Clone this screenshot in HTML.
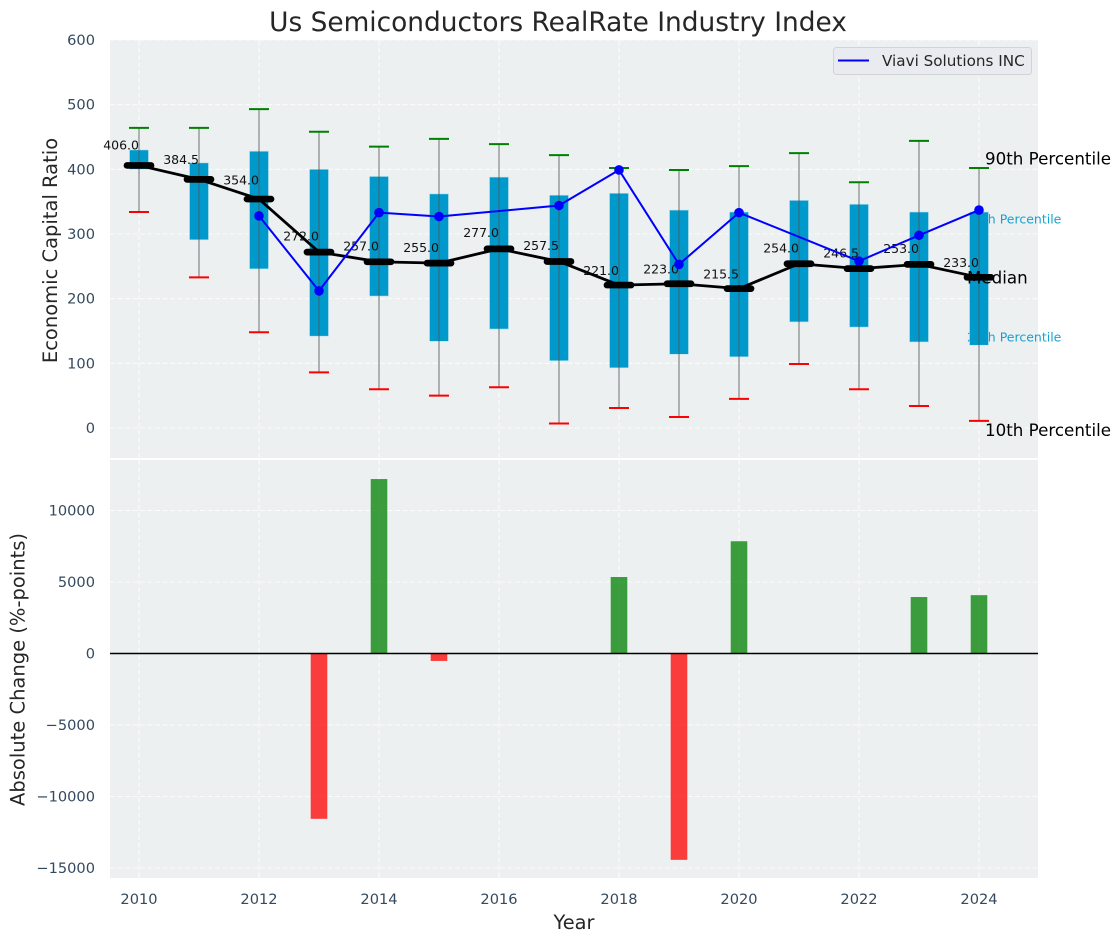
<!DOCTYPE html>
<html>
<head>
<meta charset="utf-8">
<title>Us Semiconductors RealRate Industry Index</title>
<style>
html,body{margin:0;padding:0;background:#fff;}
svg{display:block;font-family:"DejaVu Sans","Liberation Sans",sans-serif;}
</style>
</head>
<body>
<svg id="chart" xmlns="http://www.w3.org/2000/svg" width="1120" height="942" viewBox="0 0 1120 942">
  <rect x="0" y="0" width="1120" height="942" fill="#ffffff"/>
  <rect x="110" y="40" width="928" height="418" fill="#ecf0f1"/>
  <rect x="110" y="460" width="928" height="418" fill="#ecf0f1"/>
  <g id="grid"></g>
  <g id="ticks"></g>
  <g id="under"></g>
  <g id="boxes"></g>
  <g id="mid"></g>
  <g id="lines"></g>
  <g id="bars"></g>
  <text x="558" y="31" font-size="26.4" fill="#262626" text-anchor="middle">Us Semiconductors RealRate Industry Index</text>
  <text transform="translate(57,250.5) rotate(-90)" font-size="19.5" fill="#262626" text-anchor="middle">Economic Capital Ratio</text>
  <text transform="translate(24.5,669.5) rotate(-90)" font-size="19.5" fill="#262626" text-anchor="middle">Absolute Change (%-points)</text>
  <text x="574" y="929" font-size="19.4" fill="#262626" text-anchor="middle">Year</text>
  <g>
    <rect x="833.5" y="47.5" width="198" height="27" rx="3" fill="#e9ebf0" stroke="#d2d3d6" stroke-width="1"/>
    <line x1="838" y1="60.5" x2="869" y2="60.5" stroke="#0000ff" stroke-width="2"/>
    <text x="882" y="66" font-size="15.2" fill="#262626">Viavi Solutions INC</text>
  </g>
</svg>
<script>
var years = [2010,2011,2012,2013,2014,2015,2016,2017,2018,2019,2020,2021,2022,2023,2024];
var p90 = [464,464,493,458,435,447,439,422,402,399,405,425,380,444,402];
var p75 = [430,410,428,400,389,362,388,360,363,337,334,352,346,334,334];
var medians = [406,384.5,354,272,257,255,277,257.5,221,223,215.5,254,246.5,253,233];
var p25 = [400,291,246,142,204,134,153,104,93,114,110,164,156,133,128];
var p10 = [334,233,148,86,60,50,63,7,31,17,45,99,60,34,11];
var viavi = [null,null,328,212,333,327,null,344,399,253,333,null,258,298,337];
var changes = [null,null,null,-11560,12200,-520,null,null,5350,-14430,7850,null,null,3950,4080];
var xTicks = [2010,2012,2014,2016,2018,2020,2022,2024];
var topTicks = [0,100,200,300,400,500,600];
var bottomTicks = [-15000,-10000,-5000,0,5000,10000];

var NS = 'http://www.w3.org/2000/svg';
function X(v){ return 139 + (v - 2010) * 60; }
function YT(v){ return 428 - v * 0.6467; }
function YB(v){ return 653.5 - v * 0.0143; }
function mk(parent, tag, attrs, txt){
  var e = document.createElementNS(NS, tag);
  for (var k in attrs) e.setAttribute(k, attrs[k]);
  if (txt !== undefined) e.textContent = txt;
  document.getElementById(parent).appendChild(e);
  return e;
}
var el, i, gridStyle = {stroke:'#ffffff','stroke-width':1.1,'stroke-dasharray':'5 2.5',opacity:0.85};
function gridAttrs(a){ for (var k in gridStyle) a[k] = gridStyle[k]; return a; }

xTicks.forEach(function(t){
  el = mk('grid','line',gridAttrs({x1:X(t),x2:X(t),y1:40,y2:458}));
  
  
  el = mk('grid','line',gridAttrs({x1:X(t),x2:X(t),y1:460,y2:878}));
  
  
  el = mk('ticks','text',{x:X(t),y:904,'font-size':14.6,fill:'#34495e','text-anchor':'middle'},String(t));
  
  
});
topTicks.forEach(function(t){
  el = mk('grid','line',gridAttrs({x1:110,x2:1038,y1:YT(t),y2:YT(t)}));
  
  
  el = mk('ticks','text',{x:95,y:YT(t)+5,'font-size':14.6,fill:'#34495e','text-anchor':'end'},String(t));
  
  
});
bottomTicks.forEach(function(t){
  el = mk('grid','line',gridAttrs({x1:110,x2:1038,y1:YB(t),y2:YB(t)}));
  
  
  el = mk('ticks','text',{x:95,y:YB(t)+5,'font-size':14.6,fill:'#34495e','text-anchor':'end'},String(t).replace('-','\u2212'));
  
  
});

var last = years.length - 1;
var lx = X(years[last]);
el = mk('under','text',{x:lx-12,y:YT(p75[last])+11.5,'font-size':12.5,fill:'#0099cc',opacity:0.9},'75th Percentile');


el = mk('under','text',{x:lx-12,y:YT(p25[last])-3.5,'font-size':12.5,fill:'#0099cc',opacity:0.9},'25th Percentile');



years.forEach(function(yr,i){
  var cx = X(yr);
  el = mk('boxes','rect',{x:cx-9.5,y:YT(p75[i]),width:19,height:YT(p25[i])-YT(p75[i]),fill:'#0099cc',stroke:'#bfe3ef','stroke-width':0.6});
  
  
  el = mk('boxes','line',{x1:cx,x2:cx,y1:YT(p90[i]),y2:YT(p10[i]),stroke:'#555555','stroke-width':1.1,opacity:0.75});
  
  
  el = mk('boxes','line',{x1:cx-10,x2:cx+10,y1:YT(p90[i]),y2:YT(p90[i]),stroke:'#008000','stroke-width':2});
  
  
  el = mk('boxes','line',{x1:cx-10,x2:cx+10,y1:YT(p10[i]),y2:YT(p10[i]),stroke:'#ff0000','stroke-width':2});
  
  
  el = mk('mid','text',{x:cx,y:YT(medians[i]*1.05)-3,'font-size':12.5,fill:'#111111','text-anchor':'end'},medians[i].toFixed(1));
  
  
});

el = mk('mid','text',{x:lx+6,y:YT(p90[last])-3.5,'font-size':16.7,fill:'#000000'},'90th Percentile');


el = mk('mid','text',{x:lx-12,y:YT(medians[last])+6,'font-size':16.7,fill:'#000000'},'Median');


el = mk('mid','text',{x:lx+6,y:YT(p10[last])+15,'font-size':16.7,fill:'#000000'},'10th Percentile');



var medPts = years.map(function(yr,i){ return X(yr)+','+YT(medians[i]); }).join(' ');
el = mk('lines','polyline',{points:medPts,fill:'none',stroke:'#000000','stroke-width':2.8});


years.forEach(function(yr,i){
  el = mk('lines','line',{x1:X(yr)-12,x2:X(yr)+12,y1:YT(medians[i]),y2:YT(medians[i]),stroke:'#000000','stroke-width':6.7,'stroke-linecap':'round'});
  
  
});

var viaviPts = [];
years.forEach(function(yr,i){ if (viavi[i] !== null) viaviPts.push(X(yr)+','+YT(viavi[i])); });
el = mk('lines','polyline',{points:viaviPts.join(' '),fill:'none',stroke:'#0000ff','stroke-width':2});


years.forEach(function(yr,i){
  if (viavi[i] === null) return;
  el = mk('lines','circle',{cx:X(yr),cy:YT(viavi[i]),r:4.8,fill:'#0000ff'});
  
  
});

years.forEach(function(yr,i){
  if (changes[i] === null) return;
  var v = changes[i];
  var top = Math.min(YB(v),YB(0)), h = Math.abs(YB(v)-YB(0));
  el = mk('bars','rect',{x:X(yr)-8.3,y:top,width:16.6,height:h,fill:v>=0?'#008000':'#ff0000',opacity:0.75});
  
  
});
el = mk('bars','line',{x1:110,x2:1038,y1:YB(0),y2:YB(0),stroke:'#000000','stroke-width':1.4});


</script>
</body>
</html>
